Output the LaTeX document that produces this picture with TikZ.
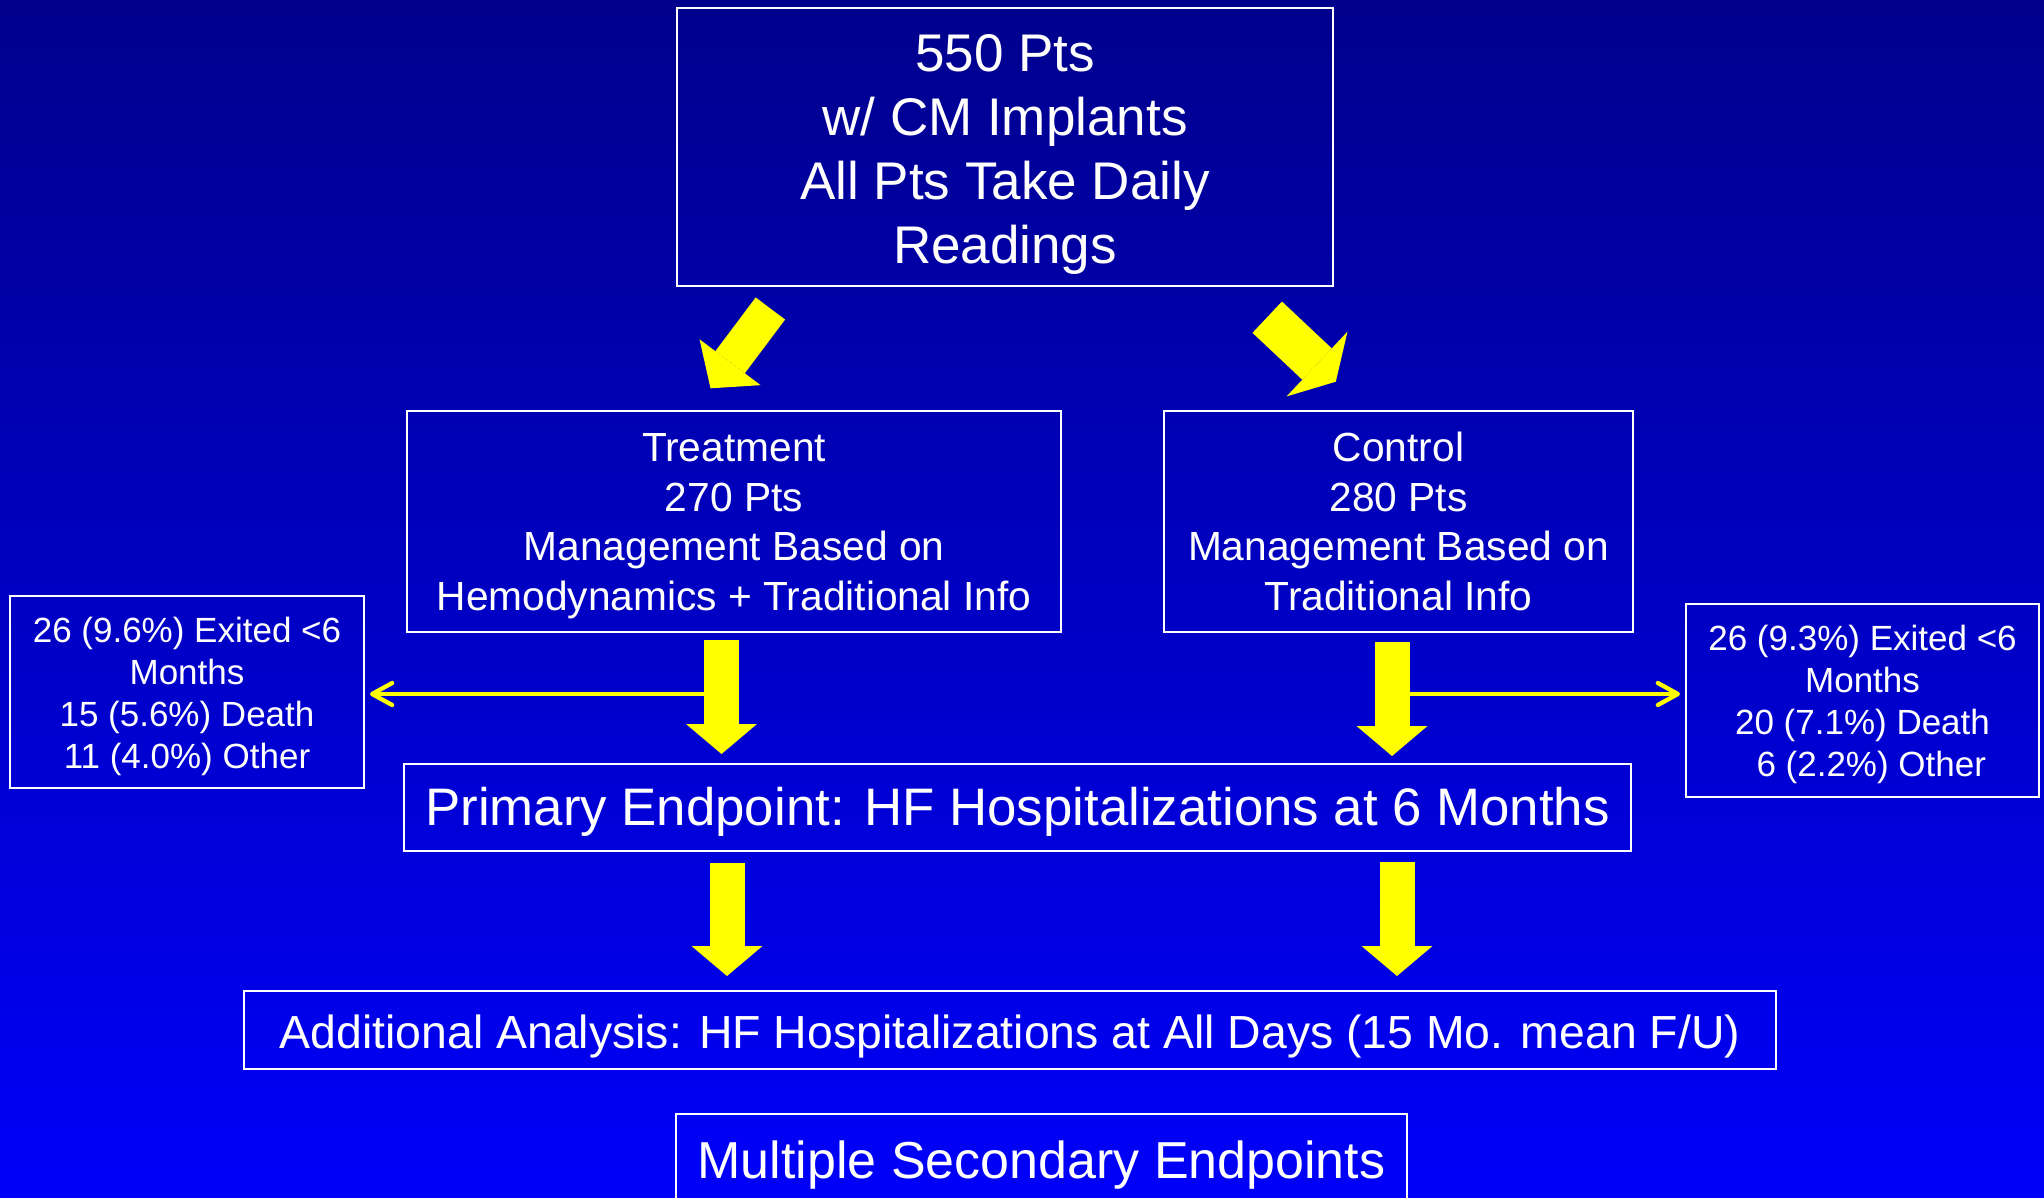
\documentclass[tikz,border=0pt]{standalone}
\usepackage{fontspec}
\setmainfont{Liberation Sans}
\usetikzlibrary{arrows.meta,calc}
\definecolor{bgtop}{RGB}{0,0,140}
\definecolor{bgbot}{RGB}{0,0,250}
\definecolor{ayellow}{RGB}{255,255,0}
\newcommand{\topstrut}[1]{\rule{0pt}{#1}}
\begin{document}
\begin{tikzpicture}[x=0.5pt,y=-0.5pt,
  box/.style={draw=white, line width=1pt, text=white, align=center, inner sep=0pt},
  downarrow/.style={draw=ayellow, line width=17.5pt, -{Triangle[width=35.5pt,length=15pt,line width=0pt]}},
  thinarrow/.style={draw=ayellow, line width=2.15pt, line cap=round, -{Straight Barb[length=10pt,width=11pt,round]}}]
\useasboundingbox (0,0) rectangle (2044,1198);
\clip (0,0) rectangle (2044,1198);
\shade[top color=bgtop, bottom color=bgbot] (0,0) rectangle (2044,1198);

% boxes
\node[box, minimum width=328pt, minimum height=139pt, font=\fontsize{26.5}{32}\selectfont] (top) at (1005,147)
  {\topstrut{25.5pt}550 Pts\\w/ CM Implants\\All Pts Take Daily\\Readings};
\node[box, minimum width=327pt, minimum height=110.5pt, font=\fontsize{20.35}{24.75}\selectfont] (treat) at (734,521.5)
  {\topstrut{18.6pt}Treatment\\270 Pts\\Management Based on\\Hemodynamics + Traditional Info};
\node[box, minimum width=234.5pt, minimum height=110.5pt, font=\fontsize{20.35}{24.75}\selectfont] (ctrl) at (1398.5,521.5)
  {Control\\280 Pts\\Management Based on\\Traditional Info};
\node[box, minimum width=177pt, minimum height=96pt, font=\fontsize{17.5}{21}\selectfont] (lbox) at (187,692)
  {\topstrut{16.8pt}26 (9.6\%) Exited <6\\Months\\15 (5.6\%) Death\\11 (4.0\%) Other};
\node[box, minimum width=176.5pt, minimum height=96.5pt, font=\fontsize{17.5}{21}\selectfont] (rbox) at (1862.5,700.5)
  {\topstrut{16.8pt}26 (9.3\%) Exited <6\\Months\\20 (7.1\%) Death\\\hspace*{0.5em}6 (2.2\%) Other};
\node[box, minimum width=613.5pt, minimum height=43.5pt, font=\fontsize{26.4}{32}\selectfont] (prim) at (1017.5,807.5)
  {\topstrut{23.9pt}Primary Endpoint: HF Hospitalizations at 6 Months};
\node[box, minimum width=766pt, minimum height=39pt, font=\fontsize{23.2}{28}\selectfont] (addl) at (1010,1030)
  {\topstrut{23.4pt}Additional Analysis: HF Hospitalizations at All Days (15 Mo. mean F/U)};
\node[box, minimum width=365.5pt, minimum height=46pt, font=\fontsize{26}{32}\selectfont] (mult) at (1041.5,1160)
  {\topstrut{23.6pt}Multiple Secondary Endpoints};

% thin side arrows
\coordinate (ls) at ($(treat.south)+(-12.5,61)$);
\coordinate (rs) at ($(ctrl.south)+(-6.5,61)$);
\draw[thinarrow, shorten >=2.5pt] (ls) -- (ls -| lbox.east);
\draw[thinarrow, shorten >=2.5pt] (rs) -- (rs -| rbox.west);

% diagonal block arrows
\draw[draw=ayellow, line width=18.4pt, -{Triangle[width=38.2pt,length=16.3pt,line width=0pt]}]
  ($(top.south)+(-234.6,21.5)$) -- ($(treat.north)+(-23.5,-21.7)$);
\draw[draw=ayellow, line width=21.5pt, -{Triangle[width=44.5pt,length=12.9pt,line width=0pt]}]
  ($(top.south)+(262.2,30.2)$) -- ($(ctrl.north)+(-62.7,-28.3)$);

% vertical block arrows
\draw[downarrow] ($(treat.south)+(-12.5,7)$) -- ($(treat.south |- prim.north)+(-12.5,-9)$);
\draw[downarrow] ($(ctrl.south)+(-6.5,9)$) -- ($(ctrl.south |- prim.north)+(-6.5,-7)$);
\draw[downarrow] ($(prim.south)+(-290.5,11)$) -- ($(prim.south |- addl.north)+(-290.5,-14)$);
\draw[downarrow] ($(prim.south)+(379.5,10)$) -- ($(prim.south |- addl.north)+(379.5,-14)$);
\end{tikzpicture}
\end{document}
